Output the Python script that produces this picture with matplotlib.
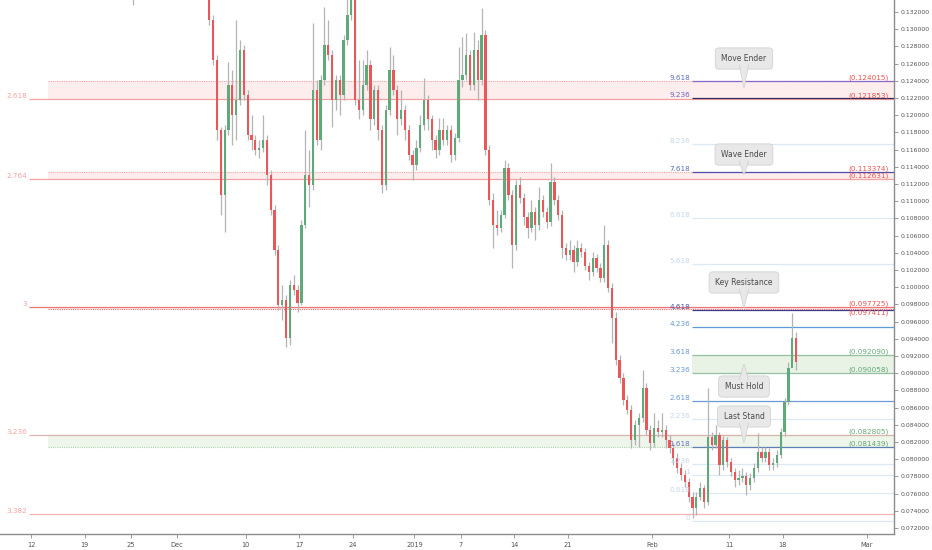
import matplotlib
matplotlib.use("Agg")
import matplotlib.pyplot as plt
import matplotlib.dates as mdates
import numpy as np
import pandas as pd
from matplotlib.patches import Polygon, Rectangle

plt.rcParams['font.family'] = ['DejaVu Sans']

# ---------------- candle data (12h candles) ----------------
candle_start = "2018-11-25 00:00"
first_open = 0.1372
closes = [
    0.1380, 0.1386, 0.1375, 0.1392, 0.1398, 0.1390, 0.1404, 0.1394, 0.1386, 0.1378,
    0.1383, 0.1392, 0.1389, 0.1380, 0.1375, 0.1369, 0.1378, 0.1371, 0.1363, 0.1357,
    0.1311, 0.1264, 0.1183, 0.1107, 0.1183, 0.1235, 0.1200, 0.1218, 0.1276, 0.1224,
    0.1177, 0.1171, 0.1160, 0.1162, 0.1171, 0.1131, 0.1090, 0.1043, 0.0979, 0.0985,
    0.0941, 0.1003, 0.0997, 0.0982, 0.1072, 0.1131, 0.1119, 0.1229, 0.1171, 0.1241,
    0.1282, 0.1270, 0.1218, 0.1241, 0.1224, 0.1288, 0.1317, 0.1340, 0.1218, 0.1206,
    0.1235, 0.1258, 0.1195, 0.1229, 0.1183, 0.1119, 0.1206, 0.1253, 0.1229, 0.1195,
    0.1206, 0.1183, 0.1154, 0.1142, 0.1162, 0.1189, 0.1218, 0.1195, 0.1171, 0.1160,
    0.1183, 0.1171, 0.1183, 0.1154, 0.1174, 0.1241, 0.1247, 0.1270, 0.1235, 0.1276,
    0.1241, 0.1293, 0.1160, 0.1101, 0.1072, 0.1069, 0.1084, 0.1139, 0.1107, 0.1049,
    0.1119, 0.1104, 0.1082, 0.1069, 0.1087, 0.1072, 0.1101, 0.1087, 0.1076, 0.1122,
    0.1101, 0.1084, 0.1046, 0.1038, 0.1043, 0.1029, 0.1046, 0.1041, 0.1025, 0.1018,
    0.1034, 0.1022, 0.1011, 0.1049, 0.0999, 0.0964, 0.0915, 0.0894, 0.0869, 0.0857,
    0.0822, 0.0840, 0.0848, 0.0883, 0.0834, 0.0819, 0.0836, 0.0832, 0.0834, 0.0822,
    0.0813, 0.0801, 0.0790, 0.0782, 0.0774, 0.0756, 0.0743, 0.0756, 0.0767, 0.0750,
    0.0826, 0.0817, 0.0828, 0.0793, 0.0822, 0.0797, 0.0785, 0.0776, 0.0778, 0.0781,
    0.0770, 0.0778, 0.0790, 0.0808, 0.0801, 0.0808, 0.0793, 0.0796, 0.0805, 0.0832,
    0.0867, 0.0906, 0.0941, 0.0913,
]
highs = [
    0.1386, 0.1392, 0.1391, 0.1398, 0.1405, 0.1402, 0.1410, 0.1408, 0.1398, 0.1390,
    0.1388, 0.1397, 0.1396, 0.1393, 0.1384, 0.1378, 0.1383, 0.1382, 0.1375, 0.1368,
    0.1363, 0.1317, 0.1270, 0.1186, 0.1189, 0.1262, 0.1253, 0.1311, 0.1288, 0.1282,
    0.1229, 0.1200, 0.1177, 0.1171, 0.1200, 0.1177, 0.1136, 0.1096, 0.1049, 0.1003,
    0.0991, 0.1008, 0.1014, 0.1003, 0.1078, 0.1183, 0.1160, 0.1307, 0.1241, 0.1247,
    0.1326, 0.1311, 0.1276, 0.1247, 0.1247, 0.1293, 0.1340, 0.1351, 0.1346, 0.1264,
    0.1264, 0.1276, 0.1264, 0.1235, 0.1235, 0.1189, 0.1212, 0.1279, 0.1270, 0.1235,
    0.1229, 0.1212, 0.1189, 0.1160, 0.1171, 0.1200, 0.1243, 0.1224, 0.1200, 0.1177,
    0.1197, 0.1197, 0.1189, 0.1189, 0.1179, 0.1279, 0.1291, 0.1296, 0.1276, 0.1297,
    0.1288, 0.1325, 0.1299, 0.1165, 0.1110, 0.1090, 0.1090, 0.1148, 0.1144, 0.1113,
    0.1125, 0.1128, 0.1110, 0.1087, 0.1101, 0.1093, 0.1116, 0.1107, 0.1093, 0.1144,
    0.1128, 0.1107, 0.1090, 0.1051, 0.1055, 0.1049, 0.1055, 0.1051, 0.1046, 0.1029,
    0.1041, 0.1039, 0.1028, 0.1072, 0.1055, 0.1005, 0.0971, 0.0921, 0.0900, 0.0875,
    0.0863, 0.0846, 0.0854, 0.0904, 0.0889, 0.0840, 0.0854, 0.0846, 0.0854, 0.0840,
    0.0828, 0.0819, 0.0807, 0.0796, 0.0787, 0.0778, 0.0762, 0.0762, 0.0773, 0.0770,
    0.0883, 0.0832, 0.0840, 0.0832, 0.0827, 0.0826, 0.0801, 0.0790, 0.0787, 0.0790,
    0.0785, 0.0784, 0.0796, 0.0831, 0.0814, 0.0814, 0.0813, 0.0801, 0.0811, 0.0836,
    0.0871, 0.0913, 0.0970, 0.0948,
]
lows = [
    0.1328, 0.1374, 0.1370, 0.1371, 0.1388, 0.1385, 0.1386, 0.1390, 0.1380, 0.1372,
    0.1373, 0.1379, 0.1384, 0.1376, 0.1370, 0.1364, 0.1366, 0.1366, 0.1358, 0.1352,
    0.1305, 0.1258, 0.1171, 0.1084, 0.1064, 0.1177, 0.1165, 0.1171, 0.1212, 0.1218,
    0.1171, 0.1160, 0.1154, 0.1150, 0.1157, 0.1119, 0.1084, 0.1038, 0.0974, 0.0962,
    0.0930, 0.0933, 0.0991, 0.0971, 0.0979, 0.1069, 0.1093, 0.1113, 0.1165, 0.1160,
    0.1235, 0.1264, 0.1186, 0.1206, 0.1200, 0.1218, 0.1282, 0.1311, 0.1212, 0.1195,
    0.1200, 0.1229, 0.1183, 0.1189, 0.1171, 0.1110, 0.1113, 0.1200, 0.1224, 0.1177,
    0.1189, 0.1171, 0.1148, 0.1125, 0.1136, 0.1157, 0.1183, 0.1183, 0.1160, 0.1150,
    0.1154, 0.1165, 0.1165, 0.1146, 0.1148, 0.1169, 0.1233, 0.1241, 0.1229, 0.1229,
    0.1218, 0.1235, 0.1154, 0.1096, 0.1046, 0.1061, 0.1064, 0.1081, 0.1101, 0.1022,
    0.1043, 0.1098, 0.1072, 0.1057, 0.1064, 0.1055, 0.1067, 0.1082, 0.1069, 0.1071,
    0.1096, 0.1078, 0.1034, 0.1032, 0.1032, 0.1018, 0.1025, 0.1035, 0.1020, 0.1008,
    0.1013, 0.1018, 0.1006, 0.1006, 0.0994, 0.0935, 0.0910, 0.0889, 0.0863, 0.0852,
    0.0813, 0.0817, 0.0814, 0.0843, 0.0828, 0.0811, 0.0814, 0.0826, 0.0826, 0.0813,
    0.0807, 0.0793, 0.0784, 0.0776, 0.0768, 0.0750, 0.0732, 0.0735, 0.0753, 0.0743,
    0.0747, 0.0811, 0.0813, 0.0782, 0.0787, 0.0791, 0.0780, 0.0768, 0.0770, 0.0774,
    0.0758, 0.0764, 0.0774, 0.0785, 0.0797, 0.0797, 0.0787, 0.0787, 0.0791, 0.0801,
    0.0827, 0.0863, 0.0915, 0.0904,
]

# ---------------- left fib (red) ----------------
left_levels = ["2.618", "2.764", "3", "3.236", "3.382"]
left_prices = [0.121853, 0.112631, 0.097725, 0.082805, 0.073590]
left_colors = ["#f2a2a2", "#f2a2a2", "#ef7474", "#d8b4ab", "#f5b4b4"]
band_low = [0.121853, 0.112631, 0.097411, 0.081439]
band_high = [0.124015, 0.113374, 0.097725, 0.082805]
band_colors = ["#fdeded", "#fdeded", "#fdeded", "#eef5ea"]
dotted_prices = [0.124015, 0.113374, 0.097411, 0.081439]
dotted_colors = ["#f3a9a9", "#f3a9a9", "#ee6e6e", "#a9d0a9"]

# ---------------- right fib (blue) ----------------
right_levels = ["0", "0.618", "1", "1.236", "1.618", "2.236", "2.618", "3.236", "3.618",
                "4.236", "4.618", "5.618", "6.618", "7.618", "8.236", "9.236", "9.618"]
right_prices = [0.072828, 0.076117, 0.078150, 0.079406, 0.081439, 0.084728, 0.086761,
                0.090050, 0.092083, 0.095372, 0.097405, 0.102727, 0.108049, 0.113371,
                0.116660, 0.121982, 0.124015]
FAINT = "#dbe8f6"
FAINT_T = "#c3d8ef"
right_line_colors = [FAINT, FAINT, FAINT, FAINT, "#5c7fb8", FAINT, "#6b9ad2", "#93c0a0",
                     "#93c0a0", "#5f9bd6", "#3d3a8c", FAINT, FAINT, "#4f4ea8", FAINT,
                     "#2e2e5e", "#8668cc"]
right_text_colors = [FAINT_T, FAINT_T, FAINT_T, FAINT_T, "#6f74c4", FAINT_T, "#6b9ad2",
                     "#6b9ad2", "#6b9ad2", "#6b9ad2", "#4a56a8", FAINT_T, FAINT_T,
                     "#5b6fc0", FAINT_T, "#6b62c0", "#6070c0"]

# ---------------- price labels on right ----------------
price_texts = ["(0.124015)", "(0.121853)", "(0.113374)", "(0.112631)", "(0.097725)",
               "(0.097411)", "(0.092090)", "(0.090058)", "(0.082805)", "(0.081439)"]
price_vals = [0.124015, 0.121853, 0.113374, 0.112631, 0.097725,
              0.097411, 0.092090, 0.090058, 0.082805, 0.081439]
price_cols = ["#ef5350"] * 6 + ["#66a877"] * 4
price_va = ["bottom", "bottom", "bottom", "bottom", "bottom", "top",
            "bottom", "bottom", "bottom", "bottom"]

# ---------------- callouts ----------------
call_texts = ["Move Ender", "Wave Ender", "Key Resistance", "Must Hold", "Last Stand"]
call_center_y = [0.12659, 0.11543, 0.10055, 0.08845, 0.08497]
call_base_y = [0.12549, 0.11433, 0.09944, 0.08956, 0.08386]
call_tip_y = [0.12316, 0.11305, 0.09758, 0.09107, 0.08188]
call_x = "2019-02-12 23:00"

# ---------------- axes ticks ----------------
x_tick_dates = ["2018-11-12", "2018-11-19", "2018-11-25", "2018-12-01", "2018-12-10",
                "2018-12-17", "2018-12-24", "2019-01-01", "2019-01-07", "2019-01-14",
                "2019-01-21", "2019-02-01", "2019-02-11", "2019-02-18", "2019-03-01"]
x_tick_labels = ["12", "19", "25", "Dec", "10", "17", "24", "2019", "7", "14", "21",
                 "Feb", "11", "18", "Mar"]
y_ticks = [0.072, 0.074, 0.076, 0.078, 0.080, 0.082, 0.084, 0.086, 0.088, 0.090,
           0.092, 0.094, 0.096, 0.098, 0.100, 0.102, 0.104, 0.106, 0.108, 0.110,
           0.112, 0.114, 0.116, 0.118, 0.120, 0.122, 0.124, 0.126, 0.128, 0.130, 0.132]


def dn(s):
    return mdates.date2num(pd.Timestamp(s))


fig = plt.figure(figsize=(9.32, 5.5), dpi=100)
ax = fig.add_axes([0, 16 / 550, 894 / 932, 534 / 550])

x_left = dn("2018-11-07 23:00")
x_right = dn("2019-03-04 12:30")
ax.set_xlim(x_left, x_right)
ax.set_ylim(0.071302, 0.133395)

left_line_x = dn("2018-11-11 18:00")
left_band_x = dn("2018-11-14 05:00")
left_text_x = dn("2018-11-11 12:00")
right_line_x = dn("2019-02-06 04:00")
right_text_x = dn("2019-02-05 22:00")
price_text_x = dn("2019-03-03 21:00")

# bands
for lo, hi, c in zip(band_low, band_high, band_colors):
    ax.add_patch(Rectangle((left_band_x, lo), x_right - left_band_x, hi - lo,
                           facecolor=c, edgecolor="none", zorder=0))
ax.add_patch(Rectangle((right_line_x, right_prices[7]), x_right - right_line_x,
                       right_prices[8] - right_prices[7], facecolor="#e8f2e5",
                       edgecolor="none", zorder=0.5))

# dotted band edges
for p, c in zip(dotted_prices, dotted_colors):
    ax.hlines(p, left_band_x, x_right, colors=c, linestyles=(0, (1, 1)), lw=0.8, zorder=1)

# left fib lines + labels
for lab, p, c in zip(left_levels, left_prices, left_colors):
    ax.hlines(p, left_line_x, x_right, colors=c, lw=0.9, zorder=1)
    ax.text(left_text_x, p, lab, ha="right", va="bottom", fontsize=5.2,
            color="#f4a3a3", zorder=3)

# right fib lines + labels
for lab, p, lc, tc in zip(right_levels, right_prices, right_line_colors, right_text_colors):
    ax.hlines(p, right_line_x, x_right, colors=lc, lw=0.9, zorder=1.2)
    ax.text(right_text_x, p, lab, ha="right", va="bottom", fontsize=5.2, color=tc, zorder=3)

# price labels
for t, p, c, va in zip(price_texts, price_vals, price_cols, price_va):
    ax.text(price_text_x, p, t, ha="right", va=va, fontsize=5.2, color=c, zorder=3)

# candles
times = pd.date_range(candle_start, periods=len(closes), freq="12h") + pd.Timedelta(hours=6)
xs = mdates.date2num(times)
opens = [first_open] + closes[:-1]
o = np.array(opens)
c = np.array(closes)
ax.vlines(xs, lows, highs, colors="#b4b4b4", lw=0.9, zorder=2)
up = c >= o
body_h = np.where(np.abs(c - o) < 0.00008, 0.00008, c - o)
ax.bar(xs[up], body_h[up], bottom=o[up], width=0.30, color="#5fa97b",
       edgecolor="none", zorder=2.5)
ax.bar(xs[~up], body_h[~up], bottom=o[~up], width=0.30, color="#e8575a",
       edgecolor="none", zorder=2.5)

# callouts
cx = dn(call_x)
hw = 0.6
for t, yc, yb, yt in zip(call_texts, call_center_y, call_base_y, call_tip_y):
    ax.text(cx, yc, t, ha="center", va="center", fontsize=5.5, color="#4a4a4a", zorder=6,
            bbox=dict(boxstyle="round,pad=0.8,rounding_size=0.5", fc="#e8e8e8",
                      ec="#d2d2d2", lw=0.6))
    inner = yb + (0.0003 if yt < yb else -0.0003)
    ax.add_patch(Polygon([(cx - hw, inner), (cx + hw, inner), (cx, yt)], closed=True,
                         fc="#e8e8e8", ec="#d2d2d2", lw=0.6, zorder=6.5))
    ax.add_patch(Polygon([(cx - hw + 0.08, inner + (0.0002 if yt < yb else -0.0002)),
                          (cx + hw - 0.08, inner + (0.0002 if yt < yb else -0.0002)),
                          (cx, yt + (0.0003 if yt < yb else -0.0003))],
                         closed=True, fc="#e8e8e8", ec="none", zorder=6.6))

# axes styling
for s in ["top", "left"]:
    ax.spines[s].set_visible(False)
for s in ["bottom", "right"]:
    ax.spines[s].set_color("#8c8c8c")
    ax.spines[s].set_linewidth(1.0)
ax.yaxis.tick_right()
ax.set_yticks(y_ticks)
ax.set_yticklabels([f"{v:.6f}" for v in y_ticks])
ax.set_xticks([dn(d) for d in x_tick_dates])
ax.set_xticklabels(x_tick_labels)
ax.tick_params(axis="y", labelsize=4.4, colors="#8c8c8c", labelcolor="#555555",
               length=3, width=0.6, pad=2)
ax.tick_params(axis="x", labelsize=4.8, colors="#8c8c8c", labelcolor="#555555",
               length=3, width=0.6, pad=3)
ax.set_facecolor("white")

fig.savefig("out.png", dpi=100, facecolor="white")
